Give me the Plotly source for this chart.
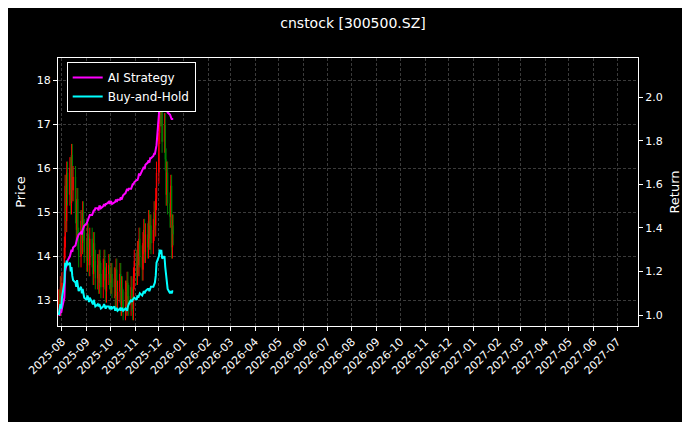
import pandas as pd
import plotly.graph_objects as go

start_date = "2025-07-28"

close = [13.0, 12.9, 13.3, 13.1, 13.4, 14.2, 15.6, 14.8, 15.9, 15.4,
         16.0, 15.2, 16.3, 15.5, 15.8, 15.0, 14.6, 15.3, 14.4, 14.0,
         14.8, 14.3, 15.0, 14.6, 14.1, 13.9, 14.5, 14.2, 13.8, 14.4,
         14.0, 13.6, 14.3, 13.9, 13.5, 13.8, 13.4, 13.9, 13.6, 13.3,
         13.7, 13.9, 13.5, 13.2, 13.6, 13.8, 13.5, 13.4, 13.6, 13.3,
         13.5, 13.1, 13.7, 13.0, 13.2, 13.6, 12.9, 13.3, 13.0, 12.8,
         13.2, 12.9, 13.4, 13.1, 12.9, 13.3, 13.0, 12.8, 13.5, 13.9,
         13.6, 14.1, 13.8, 14.4, 14.0, 13.7, 14.3, 14.6, 14.1, 14.5,
         14.2, 14.8, 14.4, 14.7, 14.3, 14.6, 15.0, 14.7, 15.3, 15.9,
         16.8, 17.9, 17.2, 17.6, 16.6, 17.0, 16.2, 15.4, 15.9, 15.2,
         14.9, 15.6, 14.2, 14.7, 14.5]

ai_strategy = [1.00, 1.00, 1.02, 1.01, 1.03, 1.08, 1.20, 1.22, 1.24, 1.25,
               1.27, 1.28, 1.30, 1.29, 1.31, 1.32, 1.34, 1.35, 1.36, 1.37,
               1.38, 1.37, 1.39, 1.40, 1.41, 1.42, 1.43, 1.44, 1.45, 1.46,
               1.46, 1.47, 1.48, 1.48, 1.49, 1.49, 1.48, 1.50, 1.50, 1.49,
               1.50, 1.51, 1.50, 1.51, 1.51, 1.52, 1.51, 1.52, 1.52, 1.51,
               1.52, 1.52, 1.53, 1.52, 1.53, 1.53, 1.54, 1.53, 1.54, 1.55,
               1.56, 1.57, 1.58, 1.57, 1.58, 1.58, 1.59, 1.60, 1.60, 1.61,
               1.62, 1.62, 1.63, 1.65, 1.64, 1.66, 1.67, 1.68, 1.67, 1.69,
               1.70, 1.71, 1.70, 1.72, 1.72, 1.73, 1.74, 1.74, 1.76, 1.78,
               1.92, 2.05, 2.08, 2.06, 2.02, 2.00, 1.96, 1.94, 1.95, 1.93,
               1.92, 1.91, 1.90, 1.90, 1.90]

buy_and_hold = [1.00, 1.02, 1.05, 1.03, 1.08, 1.15, 1.24, 1.22, 1.25, 1.23,
                1.24, 1.20, 1.22, 1.18, 1.16, 1.15, 1.13, 1.16, 1.12, 1.11,
                1.13, 1.10, 1.12, 1.09, 1.08, 1.07, 1.09, 1.08, 1.06, 1.08,
                1.06, 1.05, 1.07, 1.05, 1.04, 1.05, 1.04, 1.05, 1.04, 1.03,
                1.04, 1.05, 1.04, 1.03, 1.04, 1.04, 1.03, 1.03, 1.04, 1.03,
                1.04, 1.02, 1.03, 1.03, 1.02, 1.03, 1.02, 1.03, 1.03, 1.02,
                1.03, 1.02, 1.02, 1.04, 1.05, 1.07, 1.06, 1.07, 1.08, 1.08,
                1.07, 1.09, 1.08, 1.09, 1.10, 1.09, 1.10, 1.11, 1.10, 1.11,
                1.12, 1.12, 1.11, 1.12, 1.13, 1.13, 1.14, 1.15, 1.18, 1.24,
                1.27, 1.30, 1.28, 1.30, 1.26, 1.27, 1.22, 1.18, 1.15, 1.12,
                1.10, 1.11, 1.10, 1.11, 1.11]

month_ticks = pd.date_range("2025-08-01", "2027-07-01", freq="MS")

dates = pd.bdate_range(start_date, periods=len(close))
opens = [close[0] - 0.1] + close[:-1]
highs = [max(o, c) + 0.25 for o, c in zip(opens, close)]
lows = [min(o, c) - 0.25 for o, c in zip(opens, close)]

fig = go.Figure()
fig.add_trace(go.Candlestick(
    x=dates, open=opens, high=highs, low=lows, close=close,
    increasing=dict(line=dict(color="red", width=1), fillcolor="red"),
    decreasing=dict(line=dict(color="green", width=1), fillcolor="green"),
    whiskerwidth=0, showlegend=False, yaxis="y"))
fig.add_trace(go.Scatter(x=dates, y=ai_strategy, name="AI Strategy",
                         line=dict(color="#ff00ff", width=2), yaxis="y2"))
fig.add_trace(go.Scatter(x=dates, y=buy_and_hold, name="Buy-and-Hold",
                         line=dict(color="#00ffff", width=2), yaxis="y2"))

grid = dict(showgrid=True, gridcolor="#3a3a3a", griddash="3px,2px", gridwidth=0.6)
fig.update_layout(
    width=690, height=422,
    paper_bgcolor="black", plot_bgcolor="black",
    font=dict(family="DejaVu Sans", color="white", size=11),
    title=dict(text="cnstock [300500.SZ]", x=0.5, xanchor="center",
               y=0.975, font=dict(size=14)),
    margin=dict(l=50, r=60, t=50, b=104, autoexpand=False),
    xaxis=dict(range=["2025-07-27", "2027-07-27"], tickvals=month_ticks,
               ticktext=[d.strftime("%Y-%m") for d in month_ticks],
               tickangle=-45, rangeslider=dict(visible=False),
               showline=True, linecolor="white", mirror=True,
               ticks="outside", tickcolor="white", ticklen=4, **grid),
    yaxis=dict(title=dict(text="Price", standoff=8), range=[12.42, 18.5],
               dtick=1, showline=True, linecolor="white", ticks="outside",
               tickcolor="white", ticklen=4, zeroline=False, **grid),
    yaxis2=dict(title=dict(text="Return", standoff=8), overlaying="y",
                side="right", range=[0.95, 2.18],
                tickvals=[1.0, 1.2, 1.4, 1.6, 1.8, 2.0],
                tickformat=".1f", showgrid=False, showline=True,
                linecolor="white", ticks="outside", tickcolor="white",
                ticklen=4, zeroline=False),
    legend=dict(x=0.015, y=0.985, xanchor="left", yanchor="top",
                bgcolor="black", bordercolor="white", borderwidth=1,
                font=dict(size=12)),
)

fig.write_html("out.html")
